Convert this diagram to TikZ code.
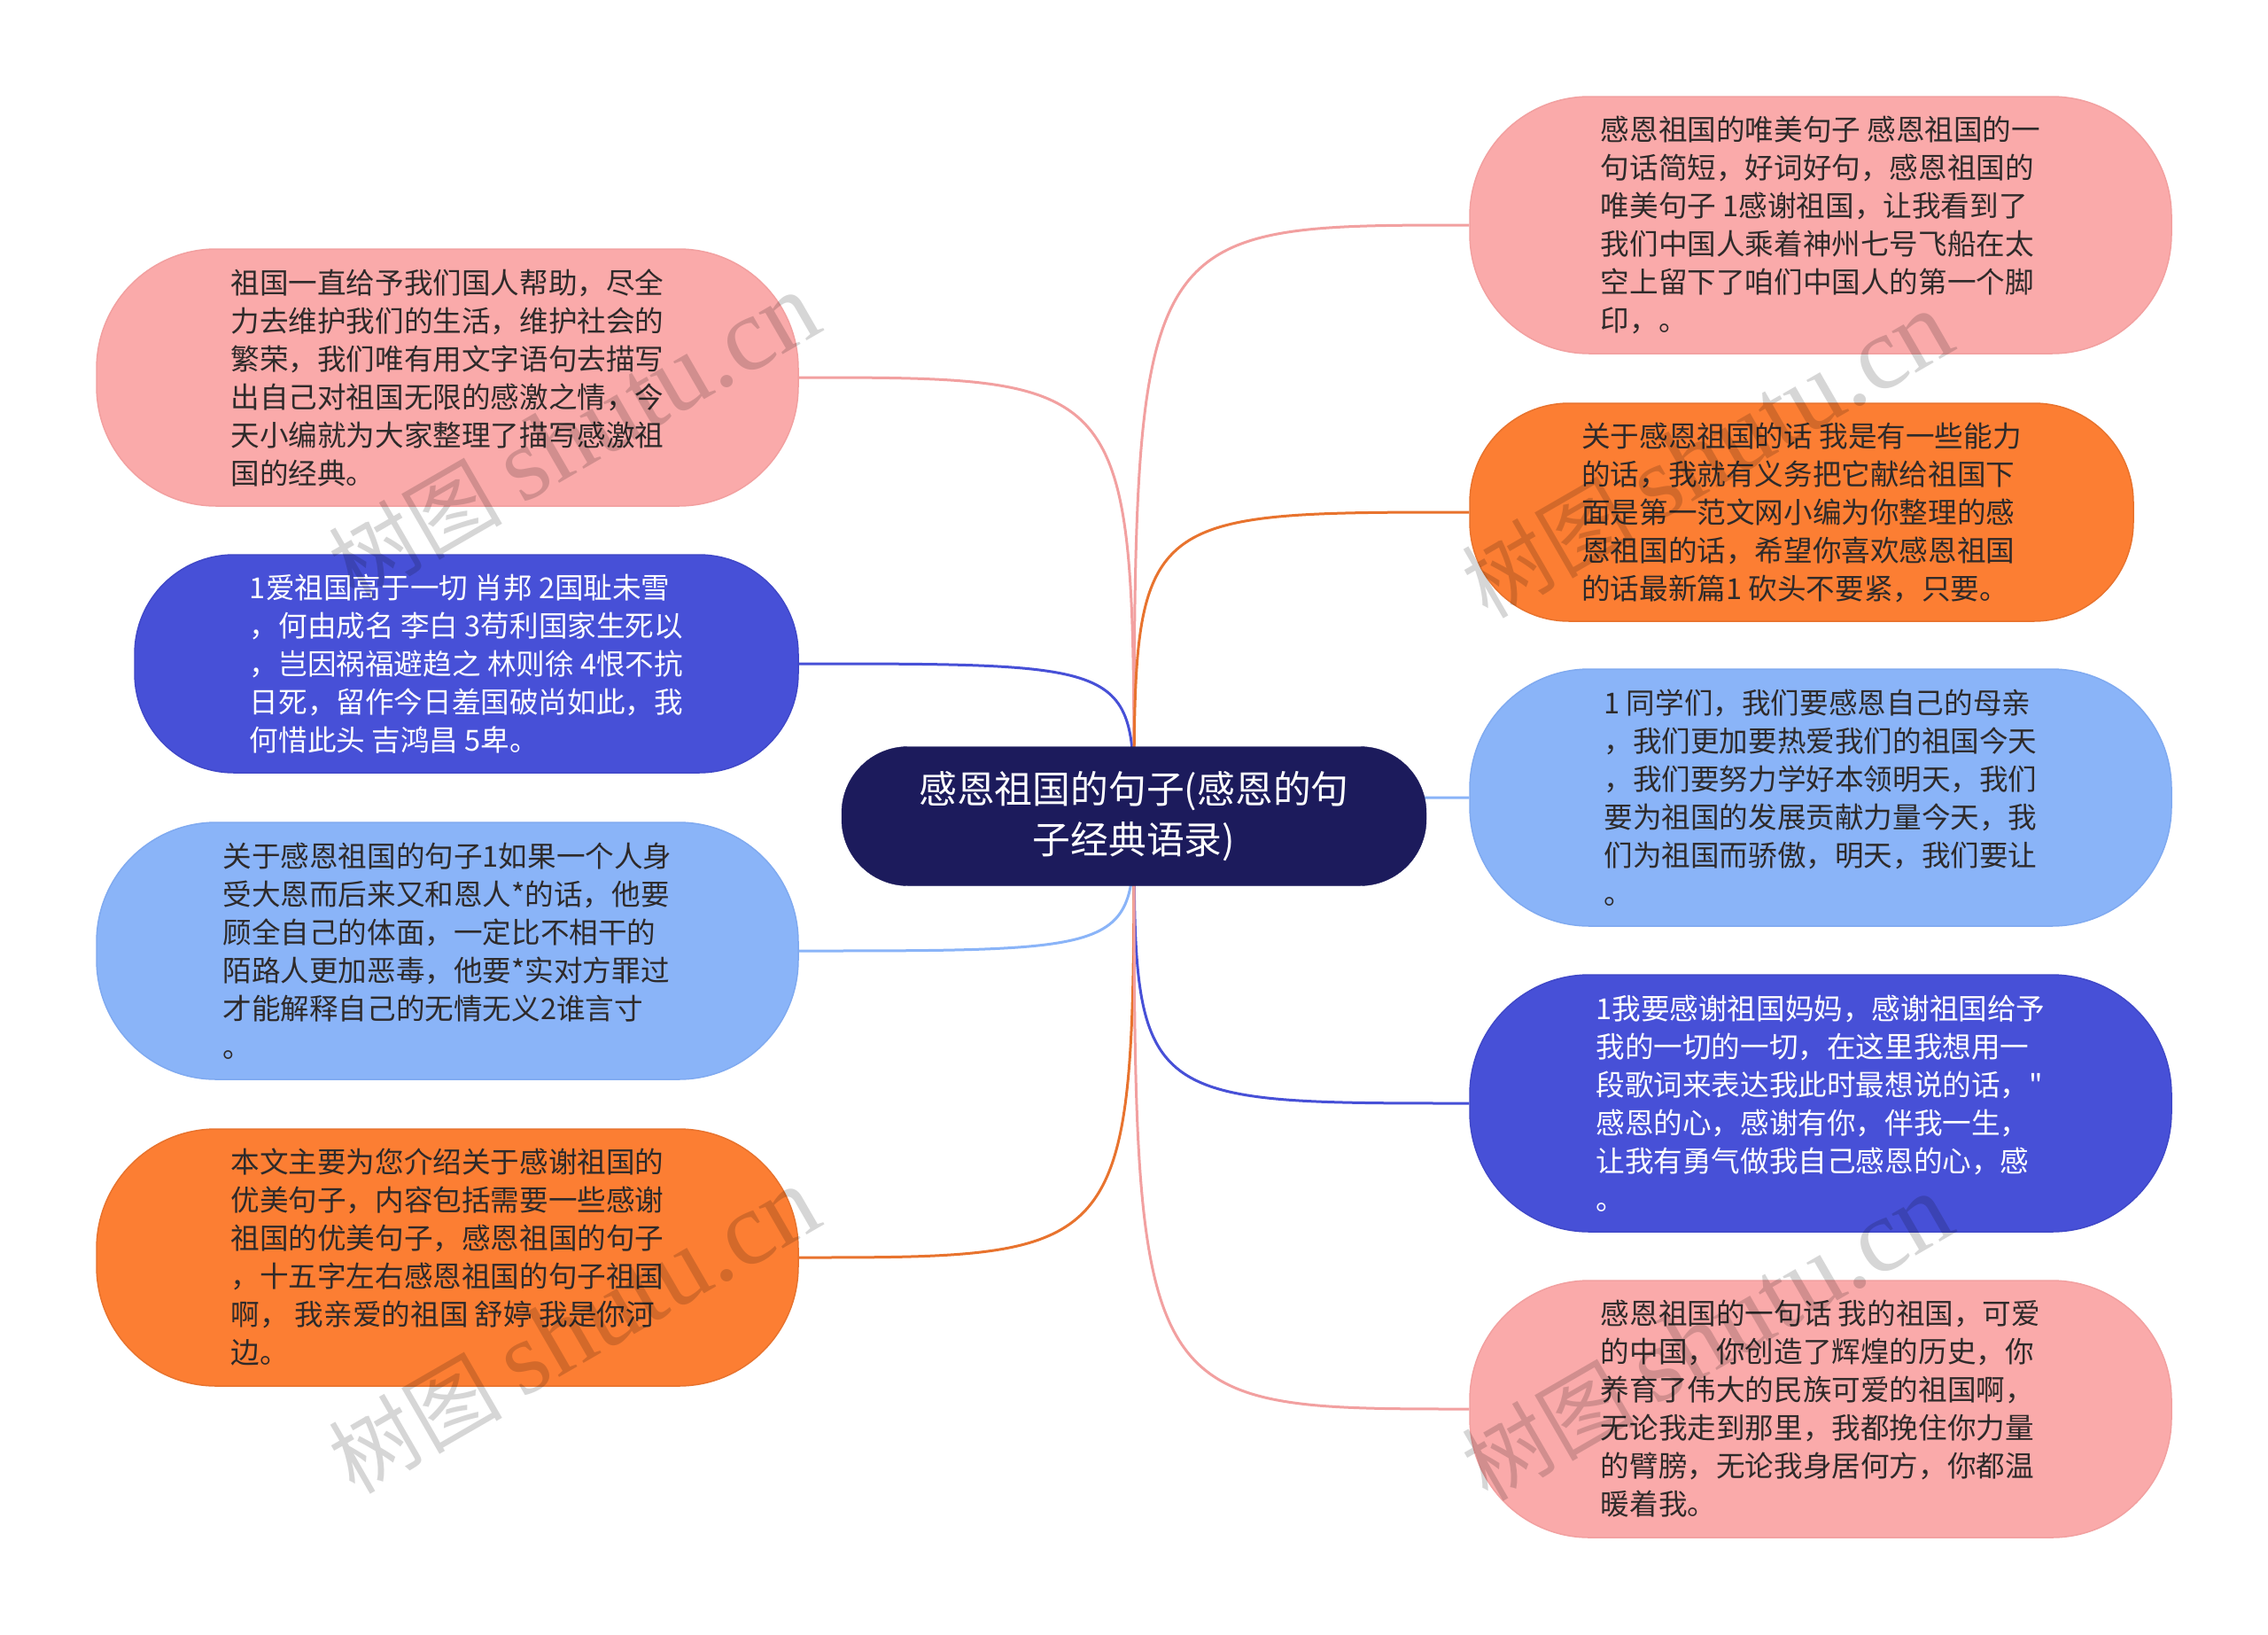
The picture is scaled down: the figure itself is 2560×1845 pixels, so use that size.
\documentclass[tikz,border=0pt]{standalone}
\usepackage{fontspec}
\setmainfont{Noto Sans CJK SC}[Ligatures=TeXOff]
\newfontfamily\wmlatin{Liberation Serif}
\usetikzlibrary{backgrounds}
\pgfdeclarelayer{bgzero}
\pgfsetlayers{bgzero,background,main}
\definecolor{pinkfill}{HTML}{FAAAAA}
\definecolor{pinkline}{HTML}{F2A0A0}
\definecolor{orangefill}{HTML}{FC7E33}
\definecolor{orangeline}{HTML}{E8732E}
\definecolor{dbluefill}{HTML}{4750D7}
\definecolor{dblueline}{HTML}{4048C8}
\definecolor{lbluefill}{HTML}{8AB4F8}
\definecolor{lblueline}{HTML}{80AAF0}
\definecolor{rootfill}{HTML}{1C1B5C}
\definecolor{textdark}{HTML}{2E2A2A}
\tikzset{
  box/.style={rectangle, inner sep=0pt, align=left, line width=1.5pt,
    font=\fontsize{32.6}{43}\selectfont},
  bigbox/.style={minimum width=792pt, minimum height=290pt, rounded corners=135pt},
  smallbox/.style={minimum width=749pt, minimum height=246pt, rounded corners=112pt},
  pinkbox/.style={box, fill=pinkfill, draw=pinkline, text=textdark},
  orangebox/.style={box, fill=orangefill, draw=orangeline, text=textdark},
  lbluebox/.style={box, fill=lbluefill, draw=lblueline, text=textdark},
  dbluebox/.style={box, fill=dbluefill, draw=dblueline, text=white},
  rootbox/.style={rectangle, inner sep=0pt, align=center, fill=rootfill, draw=rootfill,
    text=white, minimum width=660pt, minimum height=157pt, rounded corners=75pt,
    font=\fontsize{42.8}{57}\selectfont},
  link/.style={line width=3pt},
  wmark/.style={rotate=30, text=black, opacity=0.16, font=\fontsize{98}{100}\selectfont},
}
\begin{document}
\begin{tikzpicture}[x=1pt, y=-1pt]
\useasboundingbox (0,0) rectangle (2560,1845);
\begin{pgfonlayer}{bgzero}
\fill[white] (0,0) rectangle (2560,1845);
\end{pgfonlayer}

\node[rootbox] (root) at (1280,921) {感恩祖国的句子(感恩的句\\子经典语录)};

\node[pinkbox, bigbox] (L1) at (505,426) {祖国一直给予我们国人帮助，尽全\\力去维护我们的生活，维护社会的\\繁荣，我们唯有用文字语句去描写\\出自己对祖国无限的感激之情，今\\天小编就为大家整理了描写感激祖\\国的经典。};
\node[dbluebox, smallbox] (L2) at (526.5,749) {1爱祖国高于一切 肖邦 2国耻未雪\\，何由成名 李白 3苟利国家生死以\\，岂因祸福避趋之 林则徐 4恨不抗\\日死，留作今日羞国破尚如此，我\\何惜此头 吉鸿昌 5卑。};
\node[lbluebox, bigbox] (L3) at (505,1073) {关于感恩祖国的句子1如果一个人身\\受大恩而后来又和恩人*的话，他要\\顾全自己的体面，一定比不相干的\\陌路人更加恶毒，他要*实对方罪过\\才能解释自己的无情无义2谁言寸\\。};
\node[orangebox, bigbox] (L4) at (505,1419) {本文主要为您介绍关于感谢祖国的\\优美句子，内容包括需要一些感谢\\祖国的优美句子，感恩祖国的句子\\，十五字左右感恩祖国的句子祖国\\啊， 我亲爱的祖国 舒婷 我是你河\\边。};

\node[pinkbox, bigbox] (R1) at (2055,254) {感恩祖国的唯美句子 感恩祖国的一\\句话简短，好词好句，感恩祖国的\\唯美句子 1感谢祖国，让我看到了\\我们中国人乘着神州七号飞船在太\\空上留下了咱们中国人的第一个脚\\印，。};
\node[orangebox, smallbox] (R2) at (2033.5,578) {关于感恩祖国的话 我是有一些能力\\的话，我就有义务把它献给祖国下\\面是第一范文网小编为你整理的感\\恩祖国的话，希望你喜欢感恩祖国\\的话最新篇1 砍头不要紧，只要。};
\node[lbluebox, bigbox] (R3) at (2055,900) {1 同学们，我们要感恩自己的母亲\\，我们更加要热爱我们的祖国今天\\，我们要努力学好本领明天，我们\\要为祖国的发展贡献力量今天，我\\们为祖国而骄傲，明天，我们要让\\。};
\node[dbluebox, bigbox] (R4) at (2055,1245) {1我要感谢祖国妈妈，感谢祖国给予\\我的一切的一切，在这里我想用一\\段歌词来表达我此时最想说的话，"\\感恩的心，感谢有你，伴我一生，\\让我有勇气做我自己感恩的心，感\\。};
\node[pinkbox, bigbox] (R5) at (2055,1590) {感恩祖国的一句话 我的祖国，可爱\\的中国，你创造了辉煌的历史，你\\养育了伟大的民族可爱的祖国啊，\\无论我走到那里，我都挽住你力量\\的臂膀，无论我身居何方，你都温\\暖着我。};

\begin{scope}[on background layer]
\draw[link, pinkline] (root.center) .. controls (root.center |- L1.east) .. (L1.east);
\draw[link, dbluefill] (root.center) .. controls (root.center |- L2.east) .. (L2.east);
\draw[link, lbluefill] (root.center) .. controls (root.center |- L3.east) .. (L3.east);
\draw[link, orangeline] (root.center) .. controls (root.center |- L4.east) .. (L4.east);
\draw[link, pinkline] (root.center) .. controls (root.center |- R1.west) .. (R1.west);
\draw[link, orangeline] (root.center) .. controls (root.center |- R2.west) .. (R2.west);
\draw[link, lbluefill] (root.center) .. controls (root.center |- R3.west) .. (R3.west);
\draw[link, dbluefill] (root.center) .. controls (root.center |- R4.west) .. (R4.west);
\draw[link, pinkline] (root.center) .. controls (root.center |- R5.west) .. (R5.west);
\end{scope}

\node[wmark] (w1) at (648,493) {树图 {\wmlatin\fontsize{118}{120}\selectfont shutu.cn}};
\node[wmark] (w2) at (1927,514) {树图 {\wmlatin\fontsize{118}{120}\selectfont shutu.cn}};
\node[wmark] (w3) at (648,1502) {树图 {\wmlatin\fontsize{118}{120}\selectfont shutu.cn}};
\node[wmark] (w4) at (1927,1510) {树图 {\wmlatin\fontsize{118}{120}\selectfont shutu.cn}};
\end{tikzpicture}
\end{document}
